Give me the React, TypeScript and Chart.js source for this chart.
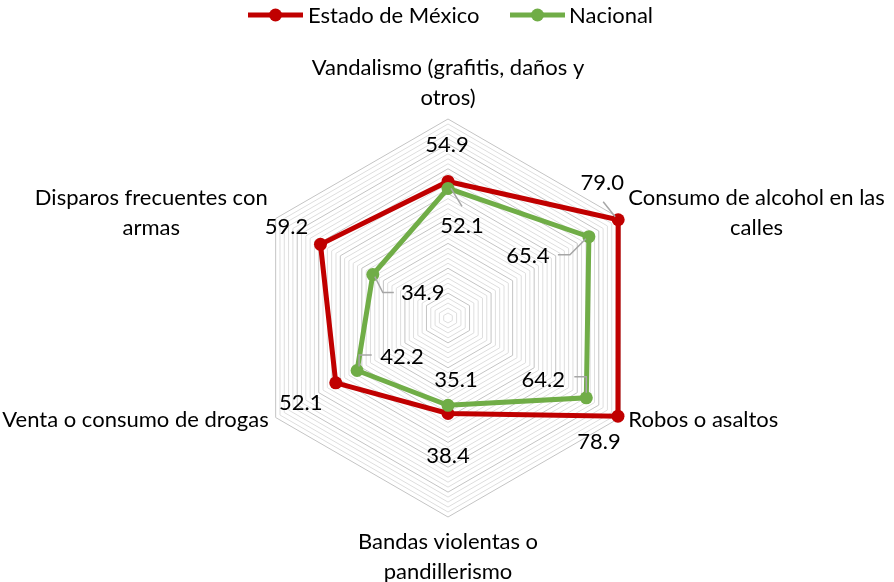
import React, { useEffect, useRef } from "react";
import { Chart, registerables } from "chart.js";
Chart.register(...registerables);

// ---- data ----
const categories: string[][] = [
  ["Vandalismo (grafitis, daños y", "otros)"],
  ["Consumo de alcohol en las", "calles"],
  ["Robos o asaltos"],
  ["Bandas violentas o", "pandillerismo"],
  ["Venta o consumo de drogas"],
  ["Disparos frecuentes con", "armas"],
];
const seriesNames = ["Estado de México", "Nacional"];
const estadoValues = [54.9, 79.0, 78.9, 38.4, 52.1, 59.2];
const nacionalValues = [52.1, 65.4, 64.2, 35.1, 42.2, 34.9];
const axisMin = 0;
const axisMax = 80;
const minorStep = 2;
const majorStep = 10;

// ---- styles ----
const RED = "#C00000";
const GREEN = "#70AD47";
const FONT = "Lato, 'Open Sans', sans-serif";
const FONT_SIZE = 22;
const LEADER = "#A6A6A6";

type Place = { align: "center" | "left" | "right"; dx: number; dy: number };
const catPlacement: Place[] = [
  { align: "center", dx: 0, dy: -51 },
  { align: "left", dx: 8, dy: -21 },
  { align: "left", dx: 8, dy: 2 },
  { align: "center", dx: 0, dy: 25 },
  { align: "right", dx: -7, dy: 2 },
  { align: "right", dx: -8, dy: -21 },
];

type VPlace = { dx: number; dy: number; leader?: number[][] };
const estadoLabelPlacement: VPlace[] = [
  { dx: -1, dy: -37 },
  { dx: -16, dy: -37, leader: [[-15, -18], [-3, -3]] },
  { dx: -19, dy: 26 },
  { dx: 0, dy: 42 },
  { dx: -35, dy: 20 },
  { dx: -34, dy: -17 },
];
const nacionalLabelPlacement: VPlace[] = [
  { dx: 14, dy: 38, leader: [[3, 0], [14, 18]] },
  { dx: -61, dy: 19, leader: [[-31, 18], [-19, 18], [-3, 2]] },
  { dx: -43, dy: -18, leader: [[-12, -21], [0, -21], [0, -5]] },
  { dx: 8, dy: -25 },
  { dx: 45, dy: -14, leader: [[2, -4], [2, -15.5], [14.6, -15.5]] },
  { dx: 50, dy: 18, leader: [[2, 2], [10, 18], [21, 18]] },
];

const decorPlugin = {
  id: "decor",
  afterDatasetsDraw(chart: any) {
    const ctx = chart.ctx as CanvasRenderingContext2D;
    const scale = chart.scales.r;
    ctx.save();
    ctx.font = `${FONT_SIZE}px ${FONT}`;
    ctx.fillStyle = "#000";
    ctx.textBaseline = "middle";

    // category labels
    categories.forEach((lines, i) => {
      const v = scale.getPointPosition(i, scale.drawingArea);
      const p = catPlacement[i];
      const maxW = Math.max(...lines.map((l) => ctx.measureText(l).width));
      let cx = v.x + p.dx;
      if (p.align === "left") cx = v.x + p.dx + maxW / 2;
      if (p.align === "right") cx = v.x + p.dx - maxW / 2;
      ctx.textAlign = "center";
      lines.forEach((l, k) => ctx.fillText(l, cx, v.y + p.dy + k * 30));
    });

    // value labels
    const sets: [number[], VPlace[]][] = [
      [estadoValues, estadoLabelPlacement],
      [nacionalValues, nacionalLabelPlacement],
    ];
    sets.forEach(([vals, places], di) => {
      const meta = chart.getDatasetMeta(di);
      vals.forEach((val, j) => {
        const pt = meta.data[j];
        const p = places[j];
        if (p.leader) {
          ctx.strokeStyle = LEADER;
          ctx.lineWidth = 1.5;
          ctx.beginPath();
          p.leader.forEach(([lx, ly], k) => {
            if (k === 0) ctx.moveTo(pt.x + lx, pt.y + ly);
            else ctx.lineTo(pt.x + lx, pt.y + ly);
          });
          ctx.stroke();
        }
        ctx.fillStyle = "#000";
        ctx.textAlign = "center";
        ctx.fillText(val.toFixed(1), pt.x + p.dx, pt.y + p.dy);
      });
    });

    // legend
    const legend = [
      { name: seriesNames[0], color: RED, x0: 248, x1: 303, tx: 308 },
      { name: seriesNames[1], color: GREEN, x0: 510, x1: 565, tx: 569 },
    ];
    legend.forEach((g) => {
      const y = 15;
      ctx.strokeStyle = g.color;
      ctx.lineWidth = 5;
      ctx.beginPath();
      ctx.moveTo(g.x0, y);
      ctx.lineTo(g.x1, y);
      ctx.stroke();
      ctx.fillStyle = g.color;
      ctx.beginPath();
      ctx.arc((g.x0 + g.x1) / 2, y, 6.5, 0, Math.PI * 2);
      ctx.fill();
      ctx.fillStyle = "#000";
      ctx.textAlign = "left";
      ctx.fillText(g.name, g.tx, y + 1);
    });
    ctx.restore();
  },
};

export default function App() {
  const ref = useRef<HTMLCanvasElement>(null);
  useEffect(() => {
    if (!ref.current) return;
    const chart = new Chart(ref.current, {
      type: "radar",
      data: {
        labels: categories,
        datasets: [
          {
            label: seriesNames[0],
            data: estadoValues,
            borderColor: RED,
            backgroundColor: RED,
            pointBackgroundColor: RED,
            pointBorderColor: RED,
            borderWidth: 5,
            pointRadius: 6.5,
            pointBorderWidth: 0,
            fill: false,
            order: 2,
          },
          {
            label: seriesNames[1],
            data: nacionalValues,
            borderColor: GREEN,
            backgroundColor: GREEN,
            pointBackgroundColor: GREEN,
            pointBorderColor: GREEN,
            borderWidth: 5,
            pointRadius: 6.5,
            pointBorderWidth: 0,
            fill: false,
            order: 1,
          },
        ],
      },
      options: {
        responsive: false,
        animation: false,
        layout: { padding: { left: 2, right: 0, top: 119, bottom: 65 } },
        plugins: { legend: { display: false }, tooltip: { enabled: false } },
        elements: { line: { tension: 0 } },
        scales: {
          r: {
            min: axisMin,
            max: axisMax,
            ticks: { display: false, stepSize: minorStep },
            pointLabels: { display: false },
            angleLines: { display: false },
            grid: {
              lineWidth: 1,
              color: (c: any) =>
                c.tick && c.tick.value % majorStep === 0 ? "#C4C4C4" : "#DEDEDE",
            },
          },
        },
      },
      plugins: [decorPlugin],
    });
    return () => chart.destroy();
  }, []);
  return (
    <div style={{ position: "absolute", left: 0, top: 0, width: 894, height: 582, background: "#fff" }}>
      <canvas ref={ref} width={894} height={582} />
    </div>
  );
}
